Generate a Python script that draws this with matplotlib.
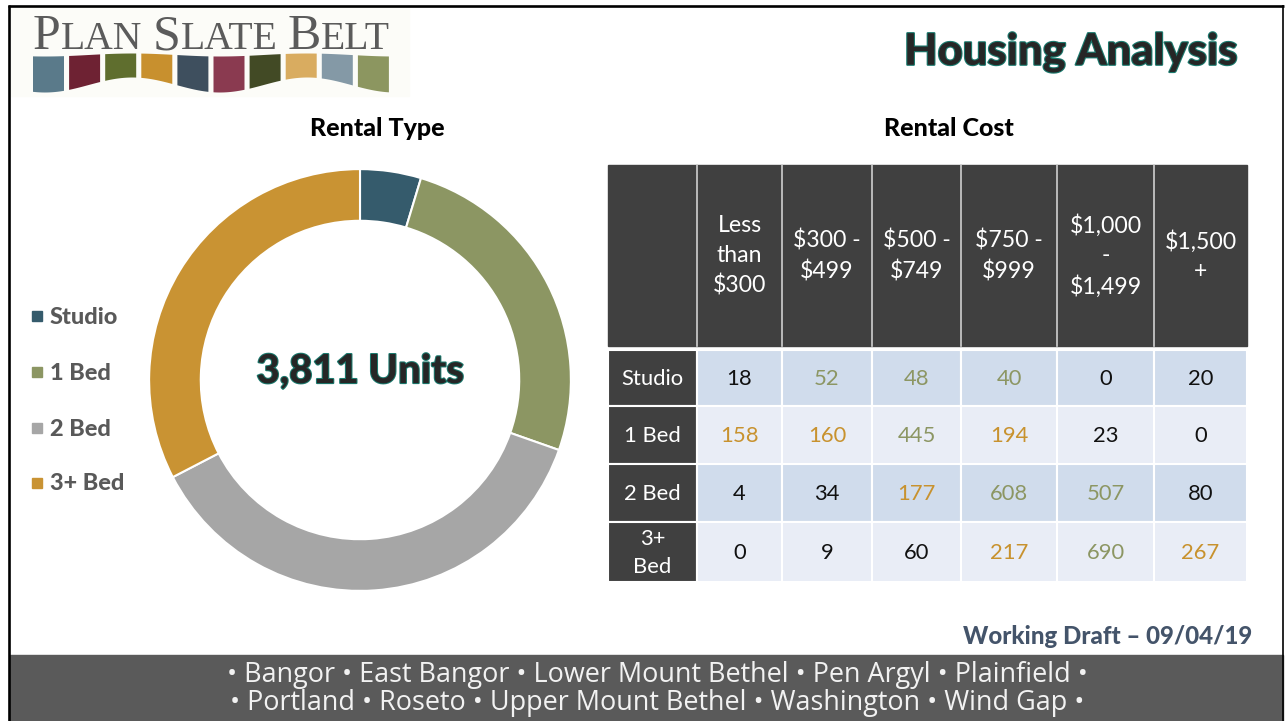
import matplotlib
matplotlib.use("Agg")
import matplotlib.pyplot as plt
import matplotlib.patheffects as pe
from matplotlib.patches import Rectangle, Polygon
import numpy as np

# ---- data ----
unit_types = ["Studio", "1 Bed", "2 Bed", "3+ Bed"]
unit_counts = [178, 980, 1410, 1243]
total_units = "3,811 Units"

cost_bins = ["Less\nthan\n$300", "$300 -\n$499", "$500 -\n$749", "$750 -\n$999",
             "$1,000\n-\n$1,499", "$1,500\n+"]
row_labels = ["Studio", "1 Bed", "2 Bed", "3+\nBed"]
studio_cost = [18, 52, 48, 40, 0, 20]
bed1_cost = [158, 160, 445, 194, 23, 0]
bed2_cost = [4, 34, 177, 608, 507, 80]
bed3_cost = [0, 9, 60, 217, 690, 267]
# highlight code for each cell: k = plain, g = green, o = orange
studio_hl = ["k", "g", "g", "g", "k", "k"]
bed1_hl = ["o", "o", "g", "o", "k", "k"]
bed2_hl = ["k", "k", "o", "g", "g", "k"]
bed3_hl = ["k", "k", "k", "o", "g", "o"]

towns_line1 = "• Bangor • East Bangor • Lower Mount Bethel • Pen Argyl • Plainfield •"
towns_line2 = "• Portland • Roseto • Upper Mount Bethel • Washington • Wind Gap •"

# ---- style ----
W, H = 1286, 721
FONT = "Lato"
BOLD = 900
donut_colors = ["#355b6c", "#8c9663", "#a6a6a6", "#c99333"]
hl_colors = {"k": "#111111", "g": "#8c9663", "o": "#c8922e"}
dark = "#404040"
teal = "#1b7a6e"
logo_colors = ["#5a7a8a", "#6e2233", "#5f6e2e", "#c8902e", "#3e4f5e",
               "#8a3a50", "#424a25", "#d9ac60", "#8499a6", "#8c9660"]

def pt(px):
    return px / 1.389

fig = plt.figure(figsize=(W / 100, H / 100), dpi=100)
fig.patch.set_facecolor("white")
ax = fig.add_axes([0, 0, 1, 1])
ax.set_xlim(0, W)
ax.set_ylim(H, 0)
ax.axis("off")

# frame + footer band
ax.add_patch(Rectangle((10, 655), 1273, 70, color="#5a5a5a", zorder=1))
ax.plot([9, 9], [5, H], color="black", lw=1.9, zorder=5, solid_capstyle="butt")
ax.plot([8, 1284], [6, 6], color="black", lw=1.9, zorder=5, solid_capstyle="butt")
ax.plot([1283, 1283], [5, H], color="black", lw=1.2, zorder=5, solid_capstyle="butt")

# logo
ax.add_patch(Rectangle((11, 8), 398, 88, color="#fcfcf8", zorder=1))
def wave_bottom(x):
    return 85 + 7.5 * np.cos(2 * np.pi * (x - 45) / 175)
def wave_top(x):
    return 55 + 1.5 * np.cos(2 * np.pi * (x - 45) / 175)
for i, c in enumerate(logo_colors):
    x0 = 33 + i * 36.1
    xs = np.linspace(x0, x0 + 31, 20)
    pts = list(zip(xs, wave_top(xs))) + list(zip(xs[::-1], wave_bottom(xs[::-1])))
    ax.add_patch(Polygon(pts, closed=True, color=c, zorder=2, lw=0))

logo_parts = [("P", 36), ("LAN", 28.5), (" ", 28.5), ("S", 36), ("LATE", 28.5),
              (" ", 28.5), ("B", 36), ("ELT", 28.5)]
fig.canvas.draw()
renderer = fig.canvas.get_renderer()
texts = []
widths = []
for s, size in logo_parts:
    t = ax.text(0, 49, s.replace(" ", "\u00a0"), fontsize=size, family="Liberation Serif",
                color="#5b5b5b", ha="left", va="baseline", zorder=3)
    bb = t.get_window_extent(renderer)
    texts.append(t)
    widths.append(bb.width)
gap = (390 - 33 - sum(widths)) / (len(widths) - 1)
xcur = 33
for t, w in zip(texts, widths):
    t.set_x(xcur)
    xcur += w + gap

# page title
ax.text(1237, 52, "Housing Analysis", fontsize=pt(43.5), fontweight=BOLD, family=FONT,
        color="#262626", ha="right", va="center", zorder=4,
        path_effects=[pe.withStroke(linewidth=1.6, foreground=teal)])

# section titles
ax.text(377, 128, "Rental Type", fontsize=pt(25), fontweight=BOLD, family=FONT,
        color="black", ha="center", va="center")
ax.text(949, 128, "Rental Cost", fontsize=pt(25), fontweight=BOLD, family=FONT,
        color="black", ha="center", va="center")

# donut
cx, cy, r = 360, 380, 213
ax_pie = fig.add_axes([(cx - r) / W, (H - cy - r) / H, 2 * r / W, 2 * r / H])
ax_pie.pie(unit_counts, colors=donut_colors, startangle=90, counterclock=False,
           wedgeprops=dict(width=0.245, edgecolor="white", linewidth=1.5))
ax_pie.set_xlim(-1.01, 1.01)
ax_pie.set_ylim(-1.01, 1.01)
ax_pie.text(0, 0.04, total_units, fontsize=pt(40), fontweight=BOLD, family=FONT,
            color="#262626", ha="center", va="center",
            path_effects=[pe.withStroke(linewidth=1.5, foreground=teal)])

# legend
leg_y = [316, 372, 428, 483]
for lbl, col, y in zip(unit_types, donut_colors, leg_y):
    ax.add_patch(Rectangle((32, y - 5), 10, 10, color=col, zorder=3))
    ax.text(50, y + 1, lbl, fontsize=pt(23.5), fontweight=BOLD, family=FONT,
            color="#595959", ha="left", va="center")

# table
col_x = [608, 697, 782, 872, 961, 1057, 1154, 1247]
head_top, head_bot = 165, 346
row_y = [350, 406, 464, 522, 582]
ax.add_patch(Rectangle((col_x[0], head_top), col_x[-1] - col_x[0], head_bot - head_top,
                       color=dark, zorder=2))
for x in col_x[1:-1]:
    ax.plot([x, x], [head_top, head_bot], color="#cfcfcf", lw=1.2, zorder=3)
for j, lbl in enumerate(cost_bins):
    xm = (col_x[j + 1] + col_x[j + 2]) / 2
    ax.text(xm, 256, lbl, fontsize=pt(23), family=FONT, color="white", ha="center",
            va="center", linespacing=1.5, zorder=4)

rows = [studio_cost, bed1_cost, bed2_cost, bed3_cost]
hls = [studio_hl, bed1_hl, bed2_hl, bed3_hl]
row_bg = ["#d0dcec", "#e9edf6", "#d0dcec", "#e9edf6"]
for i, (lbl, vals, hl) in enumerate(zip(row_labels, rows, hls)):
    y0, y1 = row_y[i], row_y[i + 1]
    ym = (y0 + y1) / 2
    ax.add_patch(Rectangle((col_x[0], y0), col_x[1] - col_x[0], y1 - y0, facecolor=dark,
                           edgecolor="white", lw=1.5, zorder=2))
    ax.text((col_x[0] + col_x[1]) / 2, ym + 1, lbl, fontsize=pt(22), family=FONT,
            color="white", ha="center", va="center", linespacing=1.45, zorder=4)
    for j, (v, h) in enumerate(zip(vals, hl)):
        ax.add_patch(Rectangle((col_x[j + 1], y0), col_x[j + 2] - col_x[j + 1], y1 - y0,
                               facecolor=row_bg[i], edgecolor="white", lw=1.5, zorder=2))
        ax.text((col_x[j + 1] + col_x[j + 2]) / 2, ym + 1, f"{v:,}", fontsize=pt(22),
                family=FONT, color=hl_colors[h], ha="center", va="center", zorder=4)

# draft note + footer
ax.text(1252, 637, "Working Draft – 09/04/19", fontsize=pt(24), fontweight=BOLD,
        family=FONT, color="#44546a", ha="right", va="center")
ax.text(657, 675, towns_line1, fontsize=pt(27), family="Open Sans", color="#f2f2f2",
        ha="center", va="center", zorder=4)
ax.text(657, 703, towns_line2, fontsize=pt(27), family="Open Sans", color="#f2f2f2",
        ha="center", va="center", zorder=4)

fig.savefig("out.png", dpi=100)
